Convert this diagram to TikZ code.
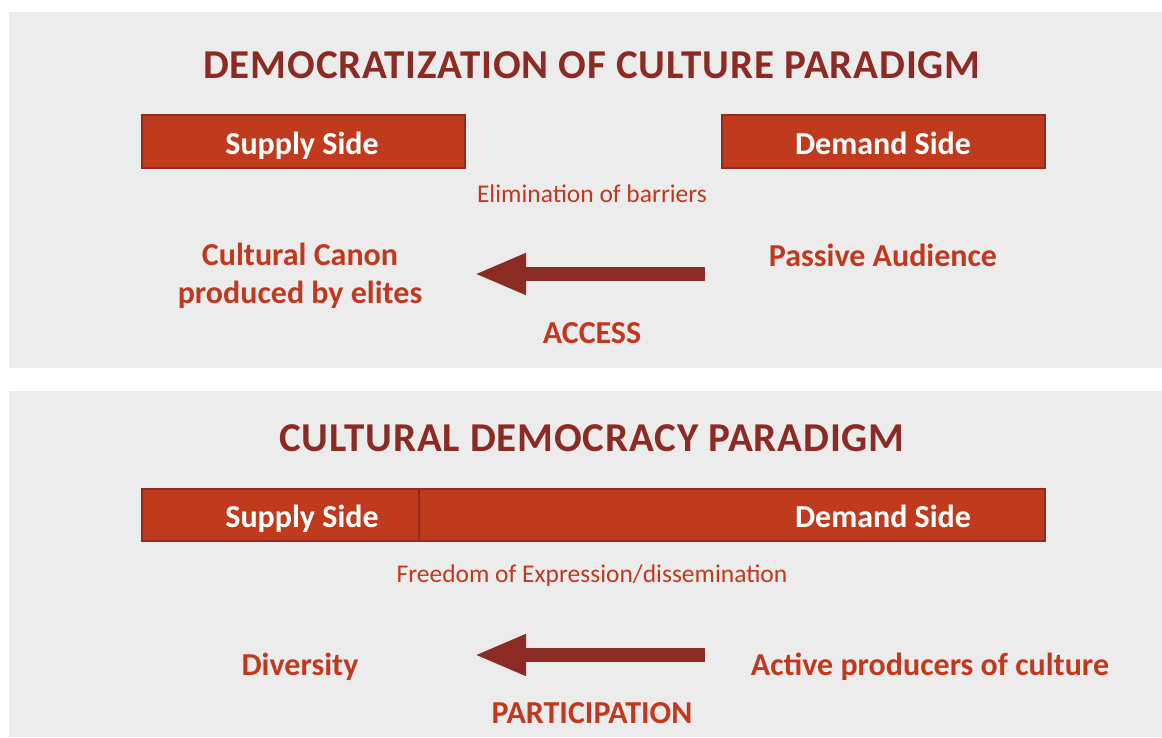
\documentclass[tikz,border=0pt]{standalone}
\usepackage{fontspec}
\setmainfont{Carlito}
\usetikzlibrary{arrows.meta}

\definecolor{panelgray}{HTML}{ECECEC}
\definecolor{barred}{HTML}{C03B1E}
\definecolor{barline}{HTML}{912B21}
\definecolor{titlered}{HTML}{8C2A24}
\definecolor{textred}{HTML}{C0391E}

\tikzset{
	panel/.style = {fill = panelgray, draw = none},
	bar/.style = {fill = barred, draw = barline, line width = 2.5pt},
	title/.style = {text = titlered, font = \fontsize{41}{48}\selectfont\bfseries\addfontfeature{LetterSpace=2}},
	barlabel/.style = {text = white, anchor = base, font = \fontsize{32}{38}\selectfont\bfseries},
	smalllabel/.style = {text = textred, font = \fontsize{25.5}{30}\selectfont},
	biglabel/.style = {text = textred, font = \fontsize{32}{38}\selectfont\bfseries, align = center},
	flow/.style = {draw = titlered, line width = 14pt, -{Triangle[length = 52pt, width = 38pt]}}
}

\begin{document}
\begin{tikzpicture}[x = 1pt, y = -1pt]
	\useasboundingbox (0,0) rectangle (1162,737);
	\fill [white] (0,0) rectangle (1162,737);
	% panels
	\draw [panel] (9,12) rectangle (1162,368);
	\draw [panel] (9,391) rectangle (1162,737);

	% democratization of culture
	\node [title] (t1) at (592,65) {DEMOCRATIZATION OF CULTURE PARADIGM};
	\draw [bar] (142,115) rectangle (465,168);
	\draw [bar] (722,115) rectangle (1045,168);
	\node [barlabel] (s1) at (302,154) {Supply Side};
	\node [barlabel] (d1) at (883,154) {Demand Side};
	\node [smalllabel] (e1) at (592,194) {Elimination of barriers};
	\node [biglabel] (c1) at (300,276) {Cultural Canon\\produced by elites};
	\node [biglabel] (p1) at (883,255) {Passive Audience};
	\coordinate (a1) at (705,274);
	\coordinate (b1) at (474,274);
	\draw [flow] (a1) -- (b1);
	\node [biglabel] (x1) at (592,333) {ACCESS};

	% cultural democracy
	\node [title] (t2) at (592,438) {CULTURAL DEMOCRACY PARADIGM};
	\draw [bar] (142,489) rectangle (465,541);
	\draw [bar] (419,489) rectangle (1045,541);
	\node [barlabel] (s2) at (302,527) {Supply Side};
	\node [barlabel] (d2) at (883,527) {Demand Side};
	\node [smalllabel] (e2) at (592,576) {Freedom of Expression/dissemination};
	\node [biglabel] (c2) at (300,667) {Diversity};
	\node [biglabel] (p2) at (930,667) {Active producers of culture};
	\coordinate (a2) at (705,655);
	\coordinate (b2) at (474,655);
	\draw [flow] (a2) -- (b2);
	\node [biglabel] (x2) at (592,713) {PARTICIPATION};
\end{tikzpicture}
\end{document}
